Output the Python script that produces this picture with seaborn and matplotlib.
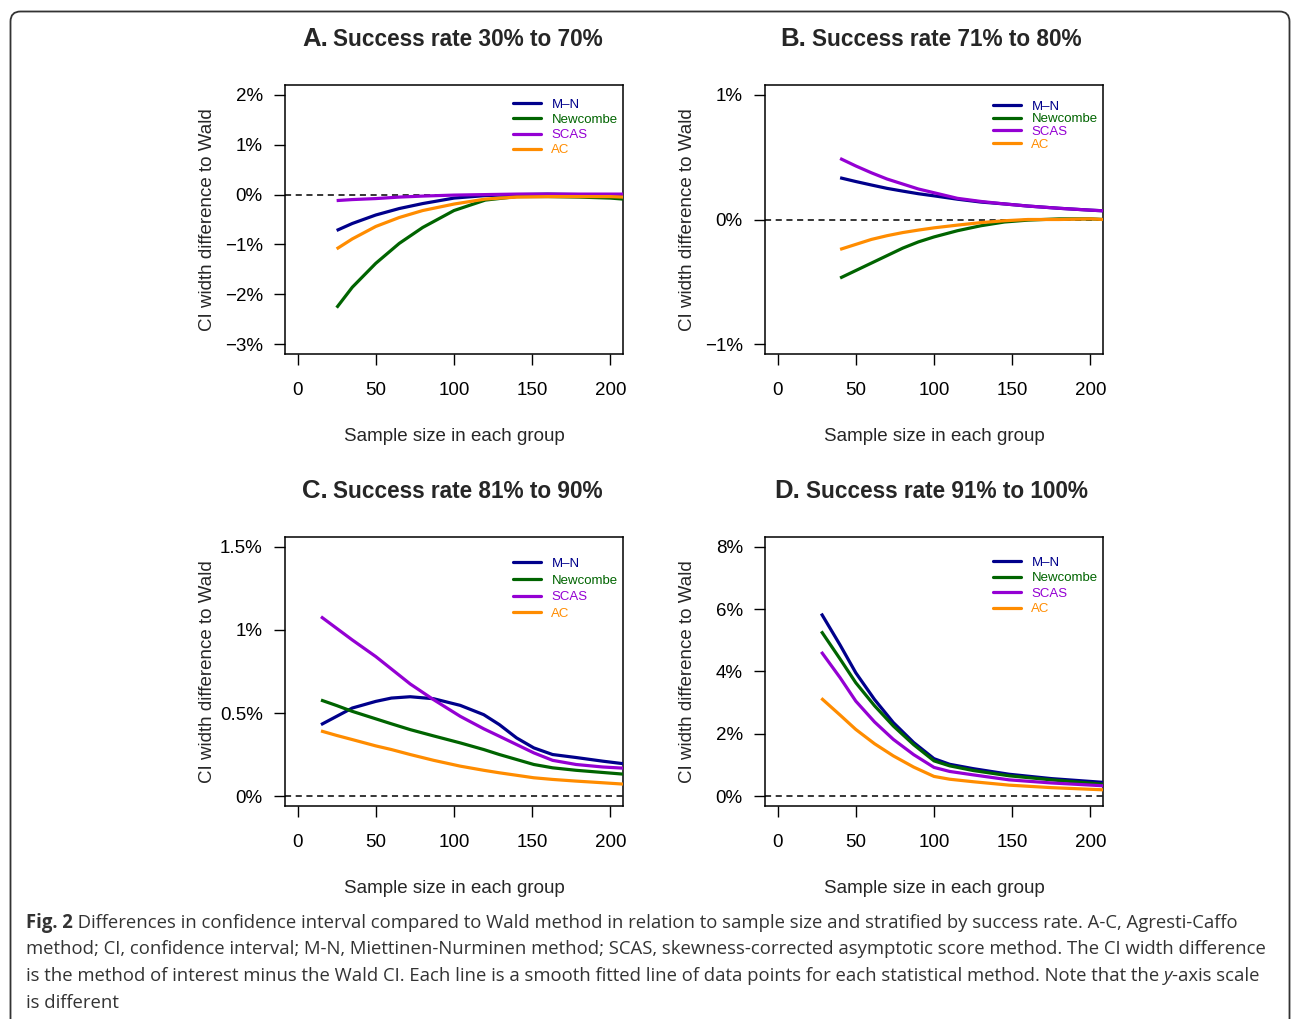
import numpy as np
import pandas as pd
import matplotlib
matplotlib.use("Agg")
import matplotlib.pyplot as plt
import seaborn as sns
from matplotlib.patches import FancyBboxPatch
from matplotlib.transforms import IdentityTransform
from matplotlib.lines import Line2D

# ---------------- data ----------------
methods = ["M\u2013N", "Newcombe", "SCAS", "AC"]
method_colors = ["#00008B", "#006400", "#9400D3", "#FF8C00"]

# Panel A: success rate 30% to 70%
a_n = [25, 35, 50, 65, 80, 100, 120, 140, 160, 180, 200, 208]
a_mn = [-0.72, -0.58, -0.41, -0.28, -0.18, -0.07, -0.02, 0.0, 0.01, 0.0, 0.0, 0.0]
a_newcombe = [-2.27, -1.86, -1.38, -0.98, -0.66, -0.32, -0.11, -0.04, -0.04, -0.05, -0.07, -0.09]
a_scas = [-0.12, -0.10, -0.08, -0.05, -0.03, -0.01, 0.0, 0.01, 0.01, 0.01, 0.01, 0.01]
a_ac = [-1.09, -0.89, -0.64, -0.46, -0.32, -0.19, -0.09, -0.05, -0.04, -0.04, -0.04, -0.05]

# Panel B: success rate 71% to 80%
b_n = [40, 50, 60, 70, 80, 90, 100, 115, 130, 145, 160, 180, 200, 208]
b_mn = [0.335, 0.305, 0.277, 0.25, 0.228, 0.207, 0.19, 0.163, 0.14, 0.125, 0.108, 0.09, 0.075, 0.07]
b_newcombe = [-0.47, -0.41, -0.35, -0.29, -0.23, -0.18, -0.14, -0.09, -0.05, -0.02, -0.005, 0.005, 0.005, 0.0]
b_scas = [0.49, 0.43, 0.375, 0.325, 0.285, 0.245, 0.215, 0.17, 0.145, 0.125, 0.108, 0.09, 0.075, 0.07]
b_ac = [-0.24, -0.20, -0.16, -0.13, -0.105, -0.085, -0.067, -0.045, -0.025, -0.01, 0.0, 0.0, 0.005, 0.0]

# Panel C: success rate 81% to 90%
c_n = [15, 25, 35, 50, 60, 72, 87, 104, 119, 129, 140, 151, 163, 178, 195, 208]
c_mn = [0.43, 0.48, 0.53, 0.57, 0.59, 0.598, 0.586, 0.546, 0.49, 0.43, 0.35, 0.29, 0.25, 0.232, 0.21, 0.195]
c_newcombe = [0.578, 0.545, 0.51, 0.465, 0.435, 0.40, 0.362, 0.32, 0.28, 0.25, 0.22, 0.19, 0.17, 0.155, 0.142, 0.132]
c_scas = [1.08, 1.01, 0.94, 0.84, 0.765, 0.675, 0.58, 0.48, 0.405, 0.36, 0.31, 0.26, 0.215, 0.19, 0.175, 0.168]
c_ac = [0.392, 0.365, 0.34, 0.302, 0.28, 0.25, 0.215, 0.18, 0.155, 0.14, 0.125, 0.11, 0.10, 0.09, 0.08, 0.072]

# Panel D: success rate 91% to 100%
d_n = [28, 40, 50, 62, 74, 87, 100, 110, 125, 148, 175, 208]
d_mn = [5.86, 4.85, 3.96, 3.10, 2.36, 1.72, 1.20, 1.02, 0.88, 0.70, 0.56, 0.44]
d_newcombe = [5.29, 4.40, 3.64, 2.90, 2.25, 1.65, 1.13, 0.97, 0.82, 0.65, 0.52, 0.38]
d_scas = [4.63, 3.80, 3.05, 2.38, 1.82, 1.33, 0.92, 0.79, 0.68, 0.52, 0.42, 0.33]
d_ac = [3.14, 2.60, 2.14, 1.68, 1.29, 0.93, 0.63, 0.54, 0.46, 0.35, 0.27, 0.20]

panel_letters = ["A.", "B.", "C.", "D."]
panel_titles = ["Success rate 30% to 70%", "Success rate 71% to 80%",
                "Success rate 81% to 90%", "Success rate 91% to 100%"]

a_yticks = [-3, -2, -1, 0, 1, 2]
a_ylabels = ["\u22123%", "\u22122%", "\u22121%", "0%", "1%", "2%"]
b_yticks = [-1, 0, 1]
b_ylabels = ["\u22121%", "0%", "1%"]
c_yticks = [0, 0.5, 1, 1.5]
c_ylabels = ["0%", "0.5%", "1%", "1.5%"]
d_yticks = [0, 2, 4, 6, 8]
d_ylabels = ["0%", "2%", "4%", "6%", "8%"]

x_ticks = [0, 50, 100, 150, 200]
x_label = "Sample size in each group"
y_label = "CI width difference to Wald"

caption_lines = [
    [("Fig. 2", {"fontweight": "bold"}),
     (" Differences in confidence interval compared to Wald method in relation to sample size and stratified by success rate. A-C, Agresti-Caffo", {})],
    [("method; CI, confidence interval; M-N, Miettinen-Nurminen method; SCAS, skewness-corrected asymptotic score method. The CI width difference", {})],
    [("is the method of interest minus the Wald CI. Each line is a smooth fitted line of data points for each statistical method. Note that the ", {}),
     ("y", {"fontstyle": "italic"}),
     ("-axis scale", {})],
    [("is different", {})],
]

# ---------------- style ----------------
sns.set_style("ticks")
plt.rcParams["font.family"] = ["Liberation Sans", "DejaVu Sans"]
plt.rcParams["axes.unicode_minus"] = True

W, H = 1292, 1019
fig = plt.figure(figsize=(W / 100, H / 100), dpi=100)
fig.patch.set_facecolor("white")

# outer rounded frame
frame = FancyBboxPatch((10.5, -30), 1279, H - 11.5 + 30,
                       boxstyle="round,pad=0,rounding_size=10",
                       linewidth=1.3, edgecolor="#333333", facecolor="none",
                       transform=IdentityTransform())
fig.add_artist(frame)

panels = [
    (a_n, [a_mn, a_newcombe, a_scas, a_ac], a_yticks, a_ylabels, (-3, 2)),
    (b_n, [b_mn, b_newcombe, b_scas, b_ac], b_yticks, b_ylabels, (-1, 1)),
    (c_n, [c_mn, c_newcombe, c_scas, c_ac], c_yticks, c_ylabels, (0, 1.5)),
    (d_n, [d_mn, d_newcombe, d_scas, d_ac], d_yticks, d_ylabels, (0, 8)),
]

# axes positions in pixels (left, top)
ax_lefts = [285, 765, 285, 765]
ax_tops = [85, 85, 537, 537]
ax_w, ax_h = 338, 269

letter_x = [0.127, 0.121, 0.127, 0.104]
title_x = [0.142, 0.139, 0.142, 0.121]
legend_spacing = [0.22, 0.03, 0.33, 0.25]
legend_top = [0.949, 0.942, 0.923, 0.928]

palette = dict(zip(methods, method_colors))

for i, (ns, series, yt, yl, (y0, y1)) in enumerate(panels):
    l, t = ax_lefts[i], ax_tops[i]
    ax = fig.add_axes([l / W, 1 - (t + ax_h) / H, ax_w / W, ax_h / H])
    rows = []
    for m, vals in zip(methods, series):
        for n, v in zip(ns, vals):
            rows.append({"n": n, "value": v, "method": m})
    df = pd.DataFrame(rows)
    ax.axhline(0, color="black", lw=1.1, ls=(0, (4, 3)), zorder=1)
    sns.lineplot(data=df, x="n", y="value", hue="method", hue_order=methods,
                 palette=palette, ax=ax, linewidth=2.3, legend=False,
                 estimator=None, sort=True, zorder=3)
    for ln in ax.lines:
        ln.set_solid_joinstyle("round")
        ln.set_solid_capstyle("butt")
    ax.set_xlim(-8, 208)
    pad = (y1 - y0) * 0.04
    ax.set_ylim(y0 - pad, y1 + pad)
    ax.set_xticks(x_ticks)
    ax.set_xticklabels([str(v) for v in x_ticks])
    ax.set_yticks(yt)
    ax.set_yticklabels(yl)
    ax.tick_params(axis="both", direction="out", length=8, width=1,
                   color="black", labelsize=13.5, labelcolor="black")
    ax.tick_params(axis="x", pad=12)
    ax.tick_params(axis="y", pad=8)
    for sp in ax.spines.values():
        sp.set_visible(True)
        sp.set_linewidth(1.1)
        sp.set_color("black")
    ax.set_xlabel(x_label, fontsize=13.5)
    ax.set_ylabel(y_label, fontsize=13.5)
    ax.xaxis.set_label_coords(0.5, -0.274)
    ax.yaxis.set_label_coords(-0.205, 0.5)
    ax.text(letter_x[i], 1.145, panel_letters[i], transform=ax.transAxes,
            ha="right", va="baseline", fontsize=18.5, fontweight="bold")
    ax.text(title_x[i], 1.145, panel_titles[i], transform=ax.transAxes,
            ha="left", va="baseline", fontsize=16.3, fontweight="bold")
    handles = [Line2D([], [], color=c, lw=2.3) for c in method_colors]
    ax.legend(handles, methods, loc="upper left", bbox_to_anchor=(0.675, legend_top[i]),
              frameon=False, fontsize=9.5, handlelength=2.1, handletextpad=0.8,
              labelspacing=legend_spacing[i], borderpad=0, borderaxespad=0,
              labelcolor=method_colors)

# ---------------- caption ----------------
cap_color = "#333333"
cap_family = ["Open Sans", "DejaVu Sans"]
renderer = fig.canvas.get_renderer()

# fit the font size so the second line spans the measured width
probe = fig.text(0, 0, caption_lines[1][0][0], fontsize=12, family=cap_family)
wprobe = probe.get_window_extent(renderer=renderer).width
probe.remove()
cap_fs = 12 * (1262 - 26) / wprobe

baselines = [928, 954.5, 981, 1007.5]
for line, yb in zip(caption_lines, baselines):
    x = 26
    for txt, kw in line:
        tt = fig.text(x / W, 1 - yb / H, txt, fontsize=cap_fs, color=cap_color,
                      family=cap_family, ha="left", va="baseline", **kw)
        bb = tt.get_window_extent(renderer=renderer)
        x = bb.x1

fig.savefig("out.png", dpi=100)
